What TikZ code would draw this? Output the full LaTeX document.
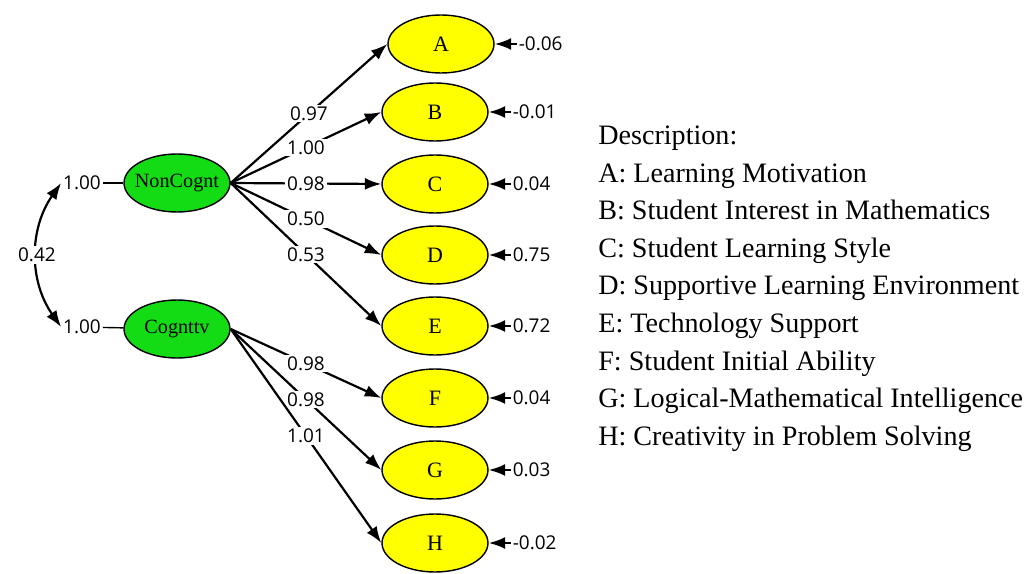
\documentclass[tikz,border=0pt]{standalone}
\usepackage{fontspec}
\setmainfont{Liberation Serif}
\newfontfamily\numfont{Open Sans}
\usetikzlibrary{arrows.meta,shapes.geometric}
\definecolor{factgreen}{RGB}{20,220,20}
\definecolor{indyellow}{RGB}{255,255,0}

\begin{document}
\begin{tikzpicture}[x=0.02cm,y=-0.02cm,
	latent/.style={ellipse,draw,line width=0.8pt,fill=factgreen,minimum width=2.12cm,minimum height=1.16cm,inner sep=0pt,font=\fontsize{11.5}{14}\selectfont},
	indic/.style={ellipse,draw,line width=0.8pt,fill=indyellow,minimum width=2.12cm,minimum height=1.16cm,inner sep=0pt,font=\fontsize{12.5}{14}\selectfont},
	val/.style={font=\numfont\fontsize{10.8}{12}\selectfont,inner sep=1pt},
	load/.style={val,fill=white,pos=0.5},
	tip/.style={line width=1.25pt,-{Latex[length=3.3mm,width=2.4mm]}}]
		\fill[white] (0,0) rectangle (1024,574);
		% factors
		\node[latent] (noncog) at (177,183) {\makebox[0pt]{NonCognt}};
		\node[latent] (cog) at (177,329) {\makebox[0pt]{Cognttv}};
		\node[val] (v1) at (82,183) {1.00};
		\node[val] (v2) at (82,327) {1.00};
		\draw[line width=0.8pt] (v1) -- (noncog);
		\draw[line width=0.8pt] (v2) -- (cog);
		\draw[line width=1.25pt,{Latex[length=3.3mm,width=2.4mm]}-{Latex[length=3.3mm,width=2.4mm]}] (v1.west) to[bend right=35] node[val,fill=white]{0.42} (v2.west);
		% indicators
		\node[indic] (A) at (441,44) {A};
		\node[indic] (B) at (435,112) {B};
		\node[indic] (C) at (435,184) {C};
		\node[indic] (D) at (435,255) {D};
		\node[indic] (E) at (435,326) {E};
		\node[indic] (F) at (435,398) {F};
		\node[indic] (G) at (435,470) {G};
		\node[indic] (H) at (435,543) {H};
		\foreach \n/\w in {A/0.97,B/1.00,C/0.98,D/0.50,E/0.53}
			\draw[tip] (noncog.east) -- node[load]{\w} (\n.west);
		\foreach \n/\w in {F/0.98,G/0.98,H/1.01}
			\draw[tip] (cog.east) -- node[load]{\w} (\n.west);
		% error terms
		\foreach \n/\e in {A/-0.06,B/-0.01,C/0.04,D/0.75,E/0.72,F/0.04,G/0.03,H/-0.02}{
			\node[val,anchor=west] (e\n) at ([xshift=0.44cm]\n.east) {\e};
			\draw[tip] (e\n.west) -- (\n.east);
		}
		% description
		\foreach \t [count=\i from 0] in {Description:,A: Learning Motivation,B: Student Interest in Mathematics,C: Student Learning Style,D: Supportive Learning Environment,E: Technology Support,F: Student Initial Ability,G: Logical-Mathematical Intelligence,H: Creativity in Problem Solving}
			\node[anchor=base west,inner sep=0pt,font=\fontsize{16}{18}\selectfont] (d\i) at (598,145+37.5*\i) {\t};
	    \end{tikzpicture}
\end{document}
